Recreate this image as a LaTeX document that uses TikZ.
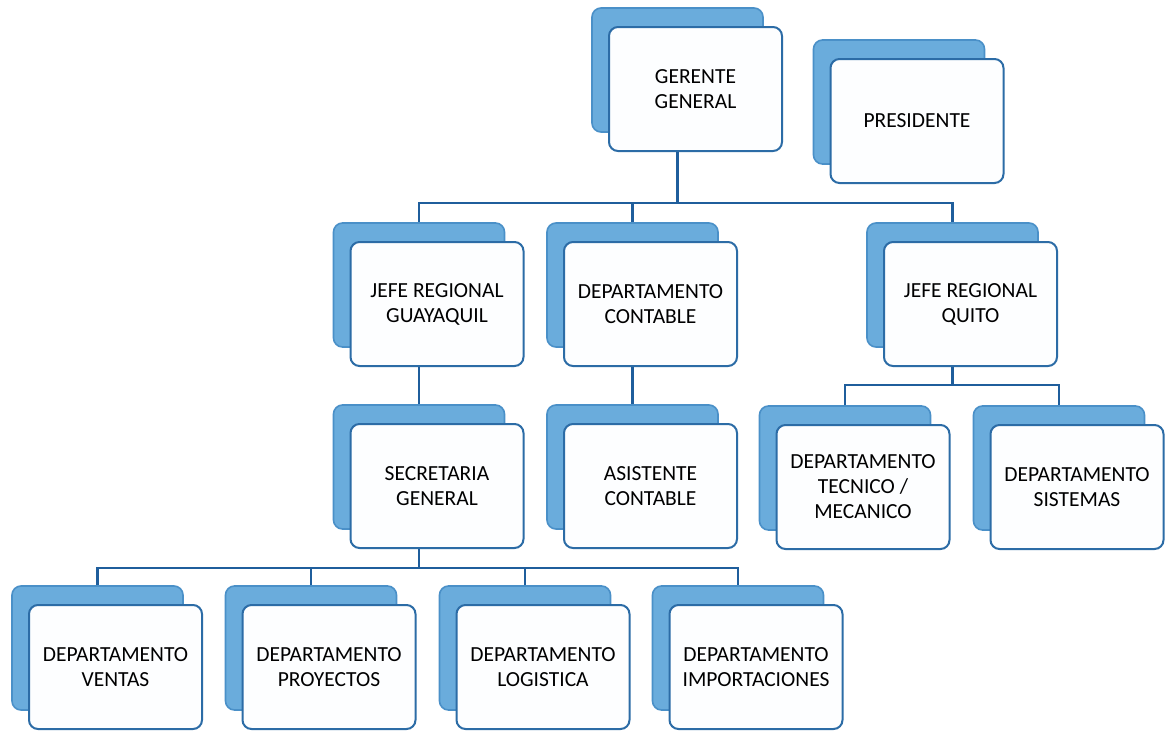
\documentclass[tikz,border=0pt]{standalone}
\usepackage{fontspec}
\setmainfont{Carlito}
\usetikzlibrary{calc}
\definecolor{backfill}{HTML}{6AACDC}
\definecolor{backdraw}{HTML}{4A90C8}
\definecolor{frontdraw}{HTML}{2C6CA6}
\definecolor{frontfill}{HTML}{FDFEFF}
\definecolor{connc}{HTML}{1F5E9C}
\tikzset{
  backbox/.style={draw=backdraw, fill=backfill, line width=1.6pt, rounded corners=9pt,
    minimum width=171pt, minimum height=124pt, inner sep=0pt},
  frontbox/.style={draw=frontdraw, fill=frontfill, line width=2pt, rounded corners=9pt,
    minimum width=173pt, minimum height=124pt, inner sep=0pt, align=center,
    font=\fontsize{21.5}{25}\selectfont, xshift=18pt, yshift=-19pt},
  conn/.style={draw=connc, line width=2.4pt}
}
\begin{document}
\begin{tikzpicture}[x=1pt,y=-1pt]
\useasboundingbox[fill=white] (0,0) rectangle (1171,731);
% top level
\node[backbox] (gg) at (677.5,70) {};
\node[frontbox] (ggf) at (gg) {GERENTE\\GENERAL};
\node[backbox] (pr) at (899,102) {};
\node[frontbox] (prf) at (pr) {PRESIDENTE};
% level 2
\node[backbox] (jg) at (419,285) {};
\node[frontbox] (jgf) at (jg) {JEFE REGIONAL\\GUAYAQUIL};
\node[backbox] (dc) at (632.5,285) {};
\node[frontbox] (dcf) at (dc) {DEPARTAMENTO\\CONTABLE};
\node[backbox] (jq) at (952.5,285) {};
\node[frontbox] (jqf) at (jq) {JEFE REGIONAL\\QUITO};
% level 3
\node[backbox] (sg) at (419,467) {};
\node[frontbox] (sgf) at (sg) {SECRETARIA\\GENERAL};
\node[backbox] (ac) at (632.5,467) {};
\node[frontbox] (acf) at (ac) {ASISTENTE\\CONTABLE};
\node[backbox] (dt) at (845,468) {};
\node[frontbox] (dtf) at (dt) {DEPARTAMENTO\\TECNICO /\\MECANICO};
\node[backbox] (ds) at (1059,468) {};
\node[frontbox] (dsf) at (ds) {DEPARTAMENTO\\SISTEMAS};
% level 4
\node[backbox] (dv) at (97.5,648) {};
\node[frontbox] (dvf) at (dv) {DEPARTAMENTO\\VENTAS};
\node[backbox] (dp) at (311,648) {};
\node[frontbox] (dpf) at (dp) {DEPARTAMENTO\\PROYECTOS};
\node[backbox] (dl) at (525,648) {};
\node[frontbox] (dlf) at (dl) {DEPARTAMENTO\\LOGISTICA};
\node[backbox] (di) at (738,648) {};
\node[frontbox] (dif) at (di) {DEPARTAMENTO\\IMPORTACIONES};
% buses
\coordinate (b1) at (0,203);
\coordinate (b2) at (0,385);
\coordinate (b3) at (0,568);
% connectors
\draw[conn] (ggf.south -| gg) -- (gg |- b1);
\draw[conn] (jg.north) -- (jg |- b1) -- (jq |- b1) -- (jq.north);
\draw[conn] (dc.north) -- (dc |- b1);
\draw[conn] (jgf.south -| jg) -- (sg.north);
\draw[conn] (dcf.south -| dc) -- (ac.north);
\draw[conn] (jqf.south -| jq) -- (jq |- b2);
\draw[conn] (dt.north) -- (dt |- b2) -- (ds |- b2) -- (ds.north);
\draw[conn] (sgf.south -| sg) -- (sg |- b3);
\draw[conn] (dv.north) -- (dv |- b3) -- (di |- b3) -- (di.north);
\draw[conn] (dp.north) -- (dp |- b3);
\draw[conn] (dl.north) -- (dl |- b3);
\end{tikzpicture}
\end{document}
